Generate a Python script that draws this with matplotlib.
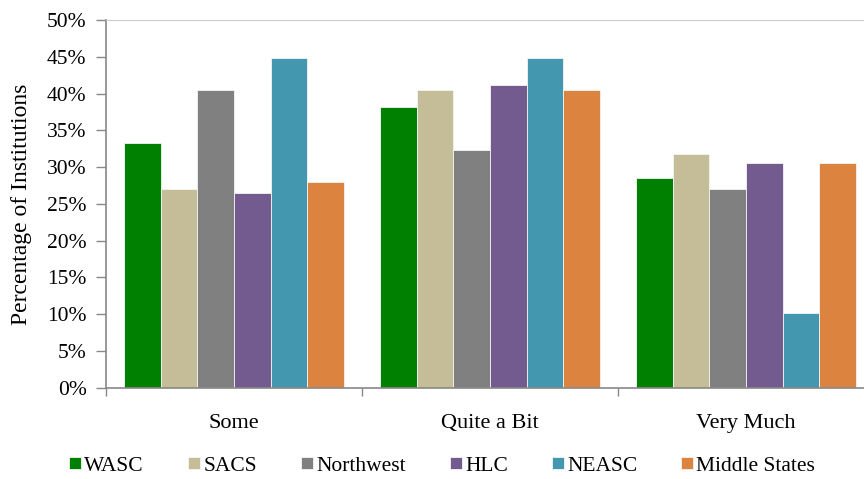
import numpy as np
import matplotlib
matplotlib.use('Agg')
import matplotlib.pyplot as plt
from matplotlib.ticker import FuncFormatter, FixedLocator

plt.rcParams['font.family'] = ['Liberation Serif', 'DejaVu Serif']

categories = ['Some', 'Quite a Bit', 'Very Much']
series = ['WASC', 'SACS', 'Northwest', 'HLC', 'NEASC', 'Middle States']
wasc = [33.3, 38.2, 28.5]
sacs = [27.0, 40.5, 31.8]
northwest = [40.5, 32.3, 27.0]
hlc = [26.5, 41.2, 30.6]
neasc = [44.8, 44.8, 10.2]
middle_states = [28.0, 40.5, 30.6]
values = [wasc, sacs, northwest, hlc, neasc, middle_states]
colors = ['#008000', '#C4BD97', '#808080', '#735A8F', '#4398B0', '#DC843F']

fig = plt.figure(figsize=(8.64, 4.79), dpi=100)
# right edge of the plot area runs past the picture, as in the reference
ax = fig.add_axes([106 / 864, 1 - 387.7 / 479, 768 / 864, 367.7 / 479])

x = np.arange(len(categories))
w = 0.1426
for i, (name, vals, c) in enumerate(zip(series, values, colors)):
    ax.bar(x + (i - 2.5) * w, vals, width=w, color=c, label=name,
           edgecolor='#f4f4f4', linewidth=0.6)

ax.set_xlim(-0.5, 2.5)
ax.set_ylim(0, 50)
ax.set_yticks(np.arange(0, 51, 5))
ax.yaxis.set_major_formatter(FuncFormatter(lambda v, p: '%d%%' % v))
ax.set_xticks(x)
ax.set_xticklabels(categories, fontsize=16)
ax.xaxis.set_minor_locator(FixedLocator([-0.5, 0.5, 1.5, 2.5]))
ax.tick_params(axis='x', which='major', length=0, pad=19)
ax.tick_params(axis='x', which='minor', length=6, color='#888888', width=1)
ax.tick_params(axis='y', length=7, color='#888888', width=1, labelsize=15.5, pad=7)
ax.set_ylabel('Percentage of Institutions', fontsize=17, labelpad=11)

for s in ['left', 'bottom']:
    ax.spines[s].set_color('#888888')
    ax.spines[s].set_linewidth(1.2)
ax.spines['top'].set_color('#cccccc')
ax.spines['right'].set_visible(False)

fig.legend(loc='center', bbox_to_anchor=(0.512, 0.027), ncol=6, frameon=False,
           fontsize=15.5, handlelength=0.55, handleheight=0.55, handletextpad=0.15,
           columnspacing=2.05)

plt.savefig('out.png', dpi=100)
